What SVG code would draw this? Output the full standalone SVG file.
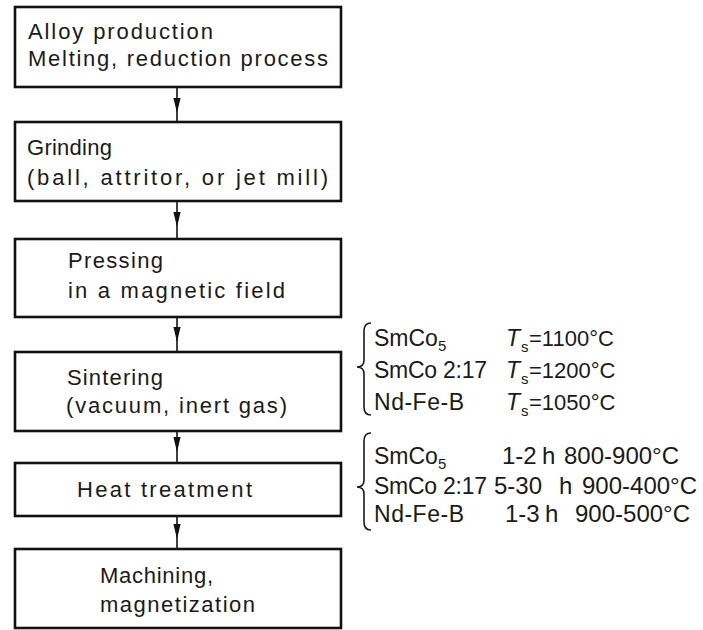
<svg xmlns="http://www.w3.org/2000/svg" width="703" height="630" viewBox="0 0 703 630">
<style>
.box{fill:#fff;stroke:#111;stroke-width:2.6}
.t{font-family:"Liberation Sans",Arial,sans-serif;font-size:22px;fill:#1a1a1a}
.r{font-family:"Liberation Sans",Arial,sans-serif;font-size:23px;fill:#1a1a1a}
.w{font-size:24px}
.n{font-size:22px}
.sub{font-size:15px}
.it{font-style:italic}
.con{fill:none;stroke:#111;stroke-width:1.6;marker-mid:url(#ah)}
.brace{fill:none;stroke:#1a1a1a;stroke-width:1.6}
</style>
<defs>
<marker id="ah" markerUnits="userSpaceOnUse" orient="auto" refX="0" refY="0" markerWidth="20" markerHeight="12" overflow="visible">
<path d="M0,0 L-15,-3.6 L-15,3.6 Z" fill="#111"/>
</marker>
</defs>
<rect width="703" height="630" fill="#fff"/>
<g id="connectors">
<path class="con" d="M177,87 V113 V122"/>
<path class="con" d="M177,201 V227 V239"/>
<path class="con" d="M177,317 V342 V352"/>
<path class="con" d="M177,431 V452 V463"/>
<path class="con" d="M177,516 V539 V549"/>
</g>
<g id="alloy">
<rect class="box" x="15" y="7" width="326" height="80"/>
<text class="t" x="28" y="39" textLength="185" lengthAdjust="spacing">Alloy production</text>
<text class="t" x="28" y="66" textLength="300" lengthAdjust="spacing">Melting, reduction process</text>
</g>
<g id="grinding">
<rect class="box" x="15" y="122" width="326" height="79"/>
<text class="t" x="27" y="155" textLength="85" lengthAdjust="spacing">Grinding</text>
<text class="t" x="27" y="185" textLength="301" lengthAdjust="spacing">(ball, attritor, or jet mill)</text>
</g>
<g id="pressing">
<rect class="box" x="15" y="239" width="326" height="78"/>
<text class="t" x="68" y="268" textLength="95" lengthAdjust="spacing">Pressing</text>
<text class="t" x="68" y="298" textLength="217" lengthAdjust="spacing">in a magnetic field</text>
</g>
<g id="sintering">
<rect class="box" x="15" y="352" width="326" height="79"/>
<text class="t" x="67" y="385" textLength="96" lengthAdjust="spacing">Sintering</text>
<text class="t" x="66" y="413" textLength="221" lengthAdjust="spacing">(vacuum, inert gas)</text>
</g>
<g id="heat">
<rect class="box" x="15" y="463" width="326" height="53"/>
<text class="t" x="77" y="497" textLength="175" lengthAdjust="spacing">Heat treatment</text>
</g>
<g id="machining">
<rect class="box" x="15" y="549" width="326" height="79"/>
<text class="t" x="100" y="583" textLength="113" lengthAdjust="spacing">Machining,</text>
<text class="t" x="100" y="612" textLength="155" lengthAdjust="spacing">magnetization</text>
</g>
<g id="sintering-notes">
<path class="brace" d="M371,323 Q364,323 364,331 V360 Q364,367 357,367 Q364,367 364,374 V407 Q364,415 371,415"/>
<text class="r" x="374" y="346">SmCo<tspan class="sub" dy="5">5</tspan></text>
<text class="r" x="374" y="378" textLength="113" lengthAdjust="spacing">SmCo 2:17</text>
<text class="r" x="374" y="410" textLength="90" lengthAdjust="spacing">Nd-Fe-B</text>
<text class="r" x="506" y="346"><tspan class="it">T</tspan><tspan class="sub" x="521" dy="6">s</tspan><tspan class="n" x="529" dy="-6">=1100°C</tspan></text>
<text class="r" x="506" y="378"><tspan class="it">T</tspan><tspan class="sub" x="521" dy="6">s</tspan><tspan class="n" x="529" dy="-6">=1200°C</tspan></text>
<text class="r" x="506" y="410"><tspan class="it">T</tspan><tspan class="sub" x="521" dy="6">s</tspan><tspan class="n" x="529" dy="-6">=1050°C</tspan></text>
</g>
<g id="heat-notes">
<path class="brace" d="M371,433 Q364,433 364,441 V480 Q364,487 357,487 Q364,487 364,494 V522 Q364,530 371,530"/>
<text class="r" x="374" y="464">SmCo<tspan class="sub" dy="5">5</tspan></text>
<text class="r" x="374" y="494" textLength="113" lengthAdjust="spacing">SmCo 2:17</text>
<text class="r" x="374" y="522" textLength="90" lengthAdjust="spacing">Nd-Fe-B</text>
<text class="r w" x="502" y="464">1-2<tspan x="542">h</tspan><tspan x="564">800-900°C</tspan></text>
<text class="r w" x="494" y="494">5-30<tspan x="559">h</tspan><tspan x="582">900-400°C</tspan></text>
<text class="r w" x="505" y="522">1-3<tspan x="545">h</tspan><tspan x="575">900-500°C</tspan></text>
</g>
</svg>
